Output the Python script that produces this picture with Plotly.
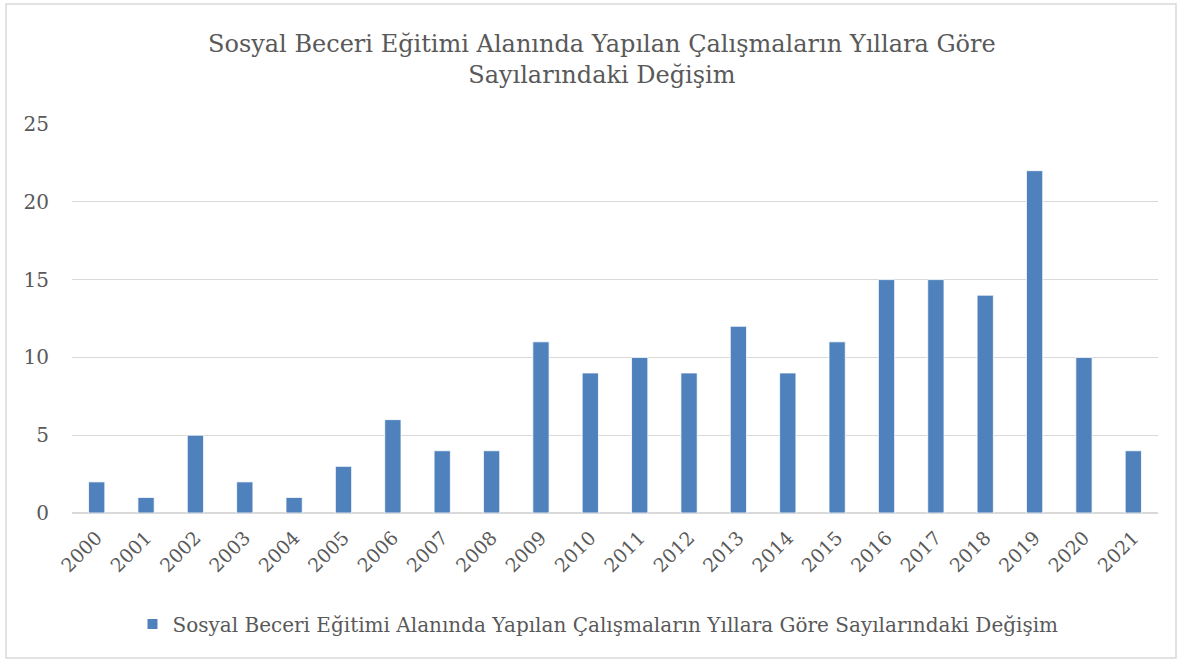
import plotly.graph_objects as go

years = [str(y) for y in range(2000, 2022)]
counts = [2, 1, 5, 2, 1, 3, 6, 4, 4, 11, 9, 10, 9, 12, 9, 11, 15, 15, 14, 22, 10, 4]
series_name = "Sosyal Beceri Eğitimi Alanında Yapılan Çalışmaların Yıllara Göre Sayılarındaki Değişim"
title_text = "Sosyal Beceri Eğitimi Alanında Yapılan Çalışmaların Yıllara Göre<br>Sayılarındaki Değişim"

FONT = "DejaVu Serif"
TXT = "#595959"
W, H = 1182, 662
L, R, T, B = 72, 24, 124, 149
pw, ph = W - L - R, H - T - B

fig = go.Figure()
fig.add_trace(go.Bar(
    x=years, y=counts, name=series_name,
    marker=dict(color="#4F81BD", line=dict(color="#ffffff", width=0.8)),
    showlegend=True,
))

fig.update_layout(
    width=W, height=H,
    margin=dict(l=L, r=R, t=T, b=B, pad=0),
    paper_bgcolor="white", plot_bgcolor="white",
    bargap=0.67,
    font=dict(family=FONT, color=TXT, size=18),
    showlegend=True,
    legend=dict(orientation="h", x=(598 - L) / pw, xanchor="center", y=(513 - 624) / ph, yanchor="middle",
                font=dict(family=FONT, size=20, color=TXT), itemsizing="constant"),
    xaxis=dict(type="category", tickangle=-45, showgrid=False, showline=False, ticks="",
               ticklabelstandoff=9,
               tickfont=dict(family=FONT, size=19, color=TXT)),
    yaxis=dict(range=[0, 25], dtick=5, showgrid=True, gridcolor="#d9d9d9", gridwidth=1,
               zeroline=True, zerolinecolor="#d9d9d9", zerolinewidth=1.5, showline=False,
               ticks="", ticklabelstandoff=22,
               tickfont=dict(family=FONT, size=20, color=TXT)),
    annotations=[dict(text=title_text, xref="paper", yref="paper",
                      x=(602 - L) / pw, y=(513 - 60) / ph, xanchor="center", yanchor="middle",
                      showarrow=False, font=dict(family=FONT, size=24, color=TXT))],
    shapes=[dict(type="rect", xref="paper", yref="paper",
                 x0=(6 - L) / pw, x1=(1176 - L) / pw, y0=(513 - 658) / ph, y1=(513 - 4) / ph,
                 line=dict(color="#d9d9d9", width=1.5), fillcolor="rgba(0,0,0,0)", layer="below")],
)

fig.write_html("out.html", config={"displayModeBar": False},
               post_script="document.body.style.margin='0';document.body.style.overflow='hidden';")
